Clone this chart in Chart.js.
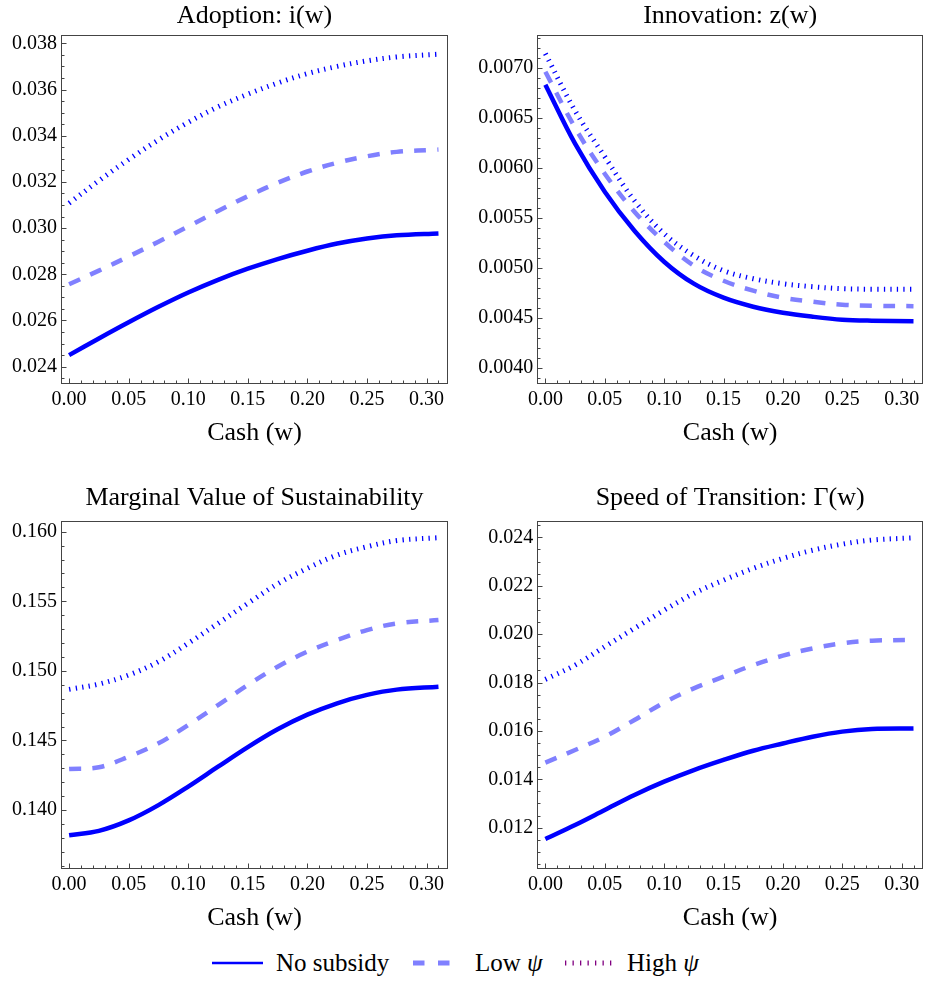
<!DOCTYPE html>
<html><head><meta charset="utf-8">
<script src="https://cdn.jsdelivr.net/npm/chart.js@4.4.0/dist/chart.umd.min.js"></script>
<style>
html,body{margin:0;padding:0;background:#fff;}
body{width:925px;height:981px;position:relative;overflow:hidden;font-family:'Liberation Serif','Times New Roman',serif;}
canvas{position:absolute;}
.leg{position:absolute;top:949px;font-size:25px;line-height:normal;color:#000;white-space:nowrap;}
svg{position:absolute;}
</style></head><body>
<canvas id="c1" width="460" height="460" style="left:0;top:0;width:460px;height:460px"></canvas>
<canvas id="c2" width="465" height="460" style="left:460px;top:0;width:465px;height:460px"></canvas>
<canvas id="c3" width="460" height="460" style="left:0;top:480px;width:460px;height:460px"></canvas>
<canvas id="c4" width="465" height="460" style="left:460px;top:480px;width:465px;height:460px"></canvas>
<svg width="925" height="40" style="left:0;top:943px">
  <line x1="212" y1="20" x2="263" y2="20" stroke="#0000FF" stroke-width="2.6"/>
  <line x1="413" y1="20" x2="451" y2="20" stroke="#8080FF" stroke-width="5" stroke-dasharray="11.5 13.5"/>
  <line x1="565" y1="20" x2="612" y2="20" stroke="#800080" stroke-width="5" stroke-dasharray="1.3 6.2"/>
</svg>
<span class="leg" style="left:276px">No subsidy</span>
<span class="leg" style="left:475px">Low <i>ψ</i></span>
<span class="leg" style="left:627px">High <i>ψ</i></span>
<script>
// ---- data ----
const cash = [0, 0.025, 0.05, 0.075, 0.10, 0.125, 0.15, 0.175, 0.20, 0.225, 0.25, 0.275, 0.31];
const seriesNames = ['No subsidy', 'Low ψ', 'High ψ'];
const xTicks = [0, 0.05, 0.10, 0.15, 0.20, 0.25, 0.30];

// Adoption: i(w)
const adoptNo   = [0.02450, 0.02522, 0.02592, 0.02659, 0.02721, 0.02776, 0.02824, 0.02866, 0.02902, 0.02933, 0.02955, 0.02969, 0.02977];
const adoptLow  = [0.02757, 0.02816, 0.02877, 0.02941, 0.03007, 0.03074, 0.03138, 0.03196, 0.03245, 0.03283, 0.03311, 0.03330, 0.03340];
const adoptHigh = [0.03108, 0.03205, 0.03297, 0.03382, 0.03458, 0.03525, 0.03580, 0.03628, 0.03669, 0.03700, 0.03724, 0.03741, 0.03753];
const adoptTicks = [0.024, 0.026, 0.028, 0.030, 0.032, 0.034, 0.036, 0.038];

// Innovation: z(w)
const innovNo   = [0.00683, 0.00624, 0.00576, 0.00537, 0.00506, 0.00484, 0.00470, 0.00461, 0.00455, 0.00451, 0.00448, 0.00447, 0.004465];
const innovLow  = [0.00696, 0.00640, 0.00594, 0.00556, 0.00526, 0.00502, 0.00487, 0.00477, 0.00470, 0.00466, 0.00463, 0.00462, 0.004615];
const innovHigh = [0.00714, 0.00657, 0.00611, 0.00567, 0.00534, 0.00512, 0.00497, 0.00489, 0.00484, 0.00481, 0.00479, 0.004785, 0.004784];
const innovTicks = [0.0040, 0.0045, 0.0050, 0.0055, 0.0060, 0.0065, 0.0070];

// Marginal Value of Sustainability
const mvsNo   = [0.13818, 0.13850, 0.13925, 0.14035, 0.14168, 0.14311, 0.14452, 0.14580, 0.14685, 0.14767, 0.14827, 0.14865, 0.14886];
const mvsLow  = [0.14295, 0.14307, 0.14383, 0.14479, 0.14611, 0.14754, 0.14898, 0.15030, 0.15138, 0.15222, 0.15293, 0.15341, 0.15365];
const mvsHigh = [0.14867, 0.14905, 0.14970, 0.15066, 0.15198, 0.15341, 0.15485, 0.15625, 0.15737, 0.15832, 0.15892, 0.15936, 0.15957];
const mvsTicks = [0.140, 0.145, 0.150, 0.155, 0.160];

// Speed of Transition: Γ(w)
const speedNo   = [0.01153, 0.01211, 0.01273, 0.01335, 0.01390, 0.01438, 0.01480, 0.01518, 0.01548, 0.01576, 0.01597, 0.01608, 0.01610];
const speedLow  = [0.01469, 0.01521, 0.01576, 0.01645, 0.01717, 0.01776, 0.01824, 0.01872, 0.01911, 0.01941, 0.01962, 0.01973, 0.01976];
const speedHigh = [0.01813, 0.01872, 0.01948, 0.02024, 0.02099, 0.02168, 0.02223, 0.02272, 0.02313, 0.02347, 0.02372, 0.02389, 0.02398];
const speedTicks = [0.012, 0.014, 0.016, 0.018, 0.020, 0.022, 0.024];

// ---- rendering ----
Chart.defaults.font.family = "'Liberation Serif','Times New Roman',serif";
Chart.defaults.color = '#000';

const styles = [
  {borderColor:'#0000FF', borderWidth:4.5, borderDash:[]},
  {borderColor:'#8080FF', borderWidth:4.5, borderDash:[12,11.3]},
  {borderColor:'#0000FF', borderWidth:5,   borderDash:[1.3,5.3]}
];

const frameTicks = {
  id:'frameTicks',
  afterDatasetsDraw(chart){
    const o = chart.options.plugins.frameTicks;
    const {ctx, chartArea:a, scales:{x,y}} = chart;
    ctx.save();
    ctx.strokeStyle = '#444';
    ctx.lineWidth = 1;
    const L = Math.round(a.left)+0.5, T = Math.round(a.top)+0.5, R = Math.round(a.right)-0.5, B = Math.round(a.bottom)-0.5;
    ctx.strokeRect(L, T, R-L, B-T);
    ctx.beginPath();
    const ys = o.yMinor;
    for (let k = Math.ceil(y.min/ys - 1e-6); k*ys <= y.max + 1e-12; k++) {
      const v = k*ys;
      const major = o.yMajor.some(t => Math.abs(t - v) < ys*0.01);
      const p = Math.round(y.getPixelForValue(v)) + 0.5;
      ctx.moveTo(L, p); ctx.lineTo(L + (major ? 5 : 3), p);
    }
    const xsStep = 0.01;
    for (let k = 0; k*xsStep <= x.max; k++) {
      const v = k*xsStep;
      const major = xTicks.some(t => Math.abs(t - v) < 1e-6);
      const p = Math.round(x.getPixelForValue(v)) + 0.5;
      ctx.moveTo(p, B); ctx.lineTo(p, B - (major ? 5 : 3));
    }
    ctx.stroke();
    ctx.restore();
  }
};

function makePanel(id, titleText, series, yTicks, yDec, yMin, yMax, yMinor, g) {
  const datasets = series.map((vals, i) => Object.assign({
    label: seriesNames[i],
    data: cash.map((c, j) => ({x: c, y: vals[j]})),
    pointRadius: 0, fill: false, tension: 0.35,
    borderCapStyle: 'butt'
  }, styles[i]));
  new Chart(document.getElementById(id), {
    type: 'line',
    data: {datasets},
    plugins: [frameTicks],
    options: {
      responsive: false, animation: false, devicePixelRatio: 1,
      layout: {padding: {left: 0, right: g.padRight, top: 0, bottom: 0}},
      plugins: {
        legend: {display: false}, tooltip: {enabled: false},
        title: {display: true, text: titleText, fullSize: false,
          font: {size: 26, weight: 'normal', lineHeight: 1.2}, color: '#000',
          padding: {top: g.titleTop, bottom: g.titleBottom}},
        frameTicks: {yMajor: yTicks, yMinor: yMinor}
      },
      scales: {
        x: {type: 'linear', min: -0.0068, max: 0.318,
          grid: {display: false, drawTicks: false}, border: {display: false},
          afterBuildTicks: s => { s.ticks = xTicks.map(v => ({value: v})); },
          afterFit: s => { s.height = g.xH; },
          ticks: {padding: 4, font: {size: 20}, color: '#000', maxRotation: 0, autoSkip: false,
            callback: v => Number(v).toFixed(2)},
          title: {display: true, text: 'Cash (w)', font: {size: 26, lineHeight: 1.2}, color: '#000',
            padding: {top: 0, bottom: g.xTitleBottom}}
        },
        y: {type: 'linear', min: yMin, max: yMax,
          grid: {display: false, drawTicks: false}, border: {display: false},
          afterBuildTicks: s => { s.ticks = yTicks.map(v => ({value: v})); },
          afterFit: s => { s.width = g.yW; },
          ticks: {padding: 4, font: {size: 20}, color: '#000', autoSkip: false,
            callback: v => Number(v).toFixed(yDec)}
        }
      }
    }
  });
}

const gTopL = {padRight: 12, yW: 61, titleTop: 0.9, titleBottom: 2.9, xH: 76, xTitleBottom: 11.4};
const gTopR = {padRight: 2, yW: 77.3, titleTop: 0.9, titleBottom: 2.9, xH: 76, xTitleBottom: 11.4};
const gBotL = {padRight: 12, yW: 61, titleTop: 2.6, titleBottom: 6.9, xH: 71, xTitleBottom: 6.4};
const gBotR = {padRight: 2, yW: 77.3, titleTop: 2.6, titleBottom: 6.9, xH: 71, xTitleBottom: 6.4};

makePanel('c1', 'Adoption: i(w)', [adoptNo, adoptLow, adoptHigh], adoptTicks, 3, 0.02325, 0.03836, 0.0005, gTopL);
makePanel('c2', 'Innovation: z(w)', [innovNo, innovLow, innovHigh], innovTicks, 4, 0.003837, 0.007327, 0.0001, gTopR);
makePanel('c3', 'Marginal Value of Sustainability', [mvsNo, mvsLow, mvsHigh], mvsTicks, 3, 0.13576, 0.16079, 0.001, gBotL);
makePanel('c4', 'Speed of Transition: Γ(w)', [speedNo, speedLow, speedHigh], speedTicks, 3, 0.01029, 0.02469, 0.0005, gBotR);
</script>
</body></html>
